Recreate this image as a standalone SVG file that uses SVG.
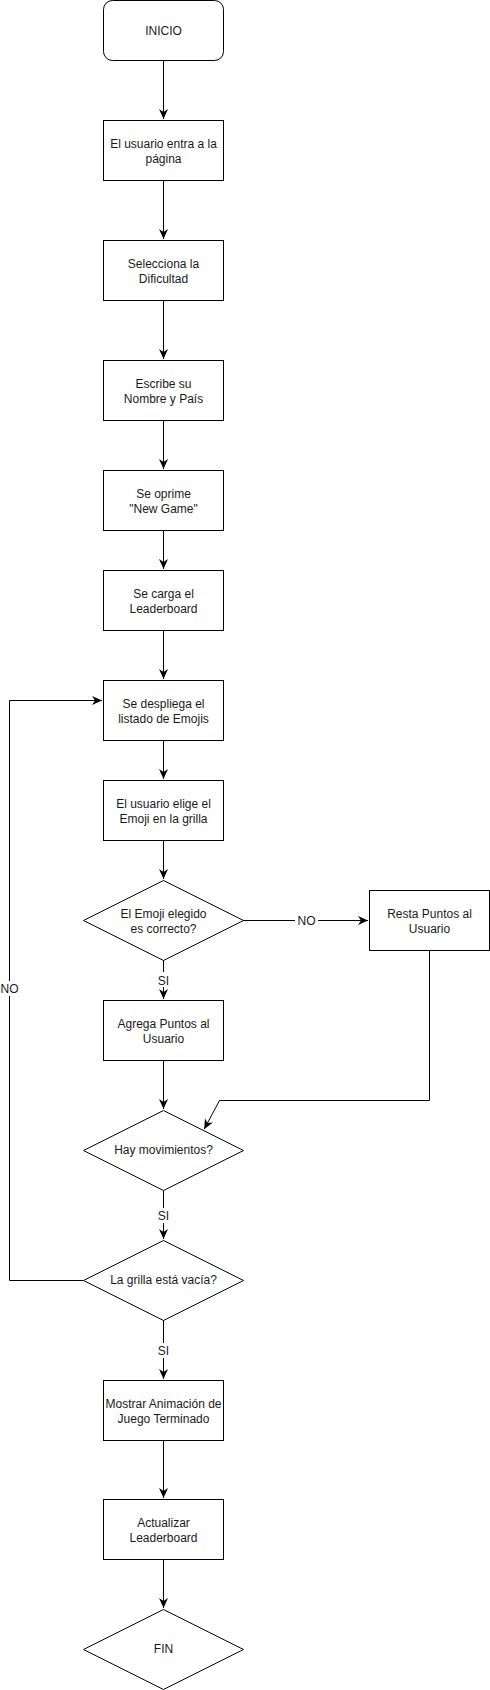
<svg xmlns="http://www.w3.org/2000/svg" width="490" height="1690" viewBox="0 0 490 1690">
<style>
.n{fill:#fff;stroke:#000;stroke-width:1}
.t{font-family:"Liberation Sans",Arial,sans-serif;font-size:12px;fill:#1a1a1a;text-anchor:middle}
.e{fill:none;stroke:#000;stroke-width:1}
.lb{fill:#fff}
</style>
<defs>
<marker id="a" markerUnits="userSpaceOnUse" markerWidth="12" markerHeight="10" refX="10" refY="4.5" orient="auto">
<path d="M0,0 L10,4.5 L0,9 L3,4.5 Z" fill="#000"/>
</marker>
</defs>
<rect width="490" height="1690" fill="#fff"/>
<g id="connectors">
<path class="e" d="M163.5,60.5 V119" marker-end="url(#a)"/>
<path class="e" d="M163.5,180.5 V239" marker-end="url(#a)"/>
<path class="e" d="M163.5,300.5 V359" marker-end="url(#a)"/>
<path class="e" d="M163.5,420.5 V469" marker-end="url(#a)"/>
<path class="e" d="M163.5,530.5 V569" marker-end="url(#a)"/>
<path class="e" d="M163.5,630.5 V679" marker-end="url(#a)"/>
<path class="e" d="M163.5,740.5 V779" marker-end="url(#a)"/>
<path class="e" d="M163.5,840.5 V879" marker-end="url(#a)"/>
<path class="e" d="M243.5,920.5 H368" marker-end="url(#a)"/>
<path class="e" d="M163.5,960.5 V999" marker-end="url(#a)"/>
<path class="e" d="M163.5,1060.5 V1109" marker-end="url(#a)"/>
<path class="e" d="M429.5,950.5 V1100.5 H219.5 L204.2,1129.2" marker-end="url(#a)"/>
<path class="e" d="M163.5,1190.5 V1239" marker-end="url(#a)"/>
<path class="e" d="M83.5,1280.5 H9.5 V700.5 H102" marker-end="url(#a)"/>
<path class="e" d="M163.5,1320.5 V1379" marker-end="url(#a)"/>
<path class="e" d="M163.5,1440.5 V1498" marker-end="url(#a)"/>
<path class="e" d="M163.5,1559.5 V1608" marker-end="url(#a)"/>
<rect class="lb" x="295" y="913" width="23" height="15"/>
<text class="t" x="306.5" y="925">NO</text>
<rect class="lb" x="153" y="972" width="21" height="15"/>
<text class="t" x="163.5" y="984.5">SI</text>
<rect class="lb" x="0" y="981" width="21" height="15"/>
<text class="t" x="9.5" y="993">NO</text>
<rect class="lb" x="153" y="1208" width="21" height="15"/>
<text class="t" x="163.5" y="1220">SI</text>
<rect class="lb" x="153" y="1343" width="21" height="15"/>
<text class="t" x="163.5" y="1355">SI</text>
</g>
<g id="inicio"><rect class="n" x="103.5" y="0.5" width="120" height="60" rx="9"/><text class="t" x="163.5" y="34.5">INICIO</text></g>
<g id="entra"><rect class="n" x="103.5" y="120.5" width="120" height="60"/><text class="t" x="163.5" y="147.5">El usuario entra a la</text><text class="t" x="163.5" y="162.5">página</text></g>
<g id="dificultad"><rect class="n" x="103.5" y="240.5" width="120" height="60"/><text class="t" x="163.5" y="267.5">Selecciona la</text><text class="t" x="163.5" y="282.5">Dificultad</text></g>
<g id="nombre"><rect class="n" x="103.5" y="360.5" width="120" height="60"/><text class="t" x="163.5" y="387.5">Escribe su</text><text class="t" x="163.5" y="402.5">Nombre y País</text></g>
<g id="newgame"><rect class="n" x="103.5" y="470.5" width="120" height="60"/><text class="t" x="163.5" y="497.5">Se oprime</text><text class="t" x="163.5" y="512.5">"New Game"</text></g>
<g id="leaderboard"><rect class="n" x="103.5" y="570.5" width="120" height="60"/><text class="t" x="163.5" y="597.5">Se carga el</text><text class="t" x="163.5" y="612.5">Leaderboard</text></g>
<g id="despliega"><rect class="n" x="103.5" y="680.5" width="120" height="60"/><text class="t" x="163.5" y="707.5">Se despliega el</text><text class="t" x="163.5" y="722.5">listado de Emojis</text></g>
<g id="elige"><rect class="n" x="103.5" y="780.5" width="120" height="60"/><text class="t" x="163.5" y="807.5">El usuario elige el</text><text class="t" x="163.5" y="822.5">Emoji en la grilla</text></g>
<g id="correcto"><path class="n" d="M163.5,880.5 L243.5,920.5 L163.5,960.5 L83.5,920.5 Z"/><text class="t" x="163.5" y="917.5">El Emoji elegido</text><text class="t" x="163.5" y="932.5">es correcto?</text></g>
<g id="resta"><rect class="n" x="369.5" y="890.5" width="120" height="60"/><text class="t" x="429.5" y="917.5">Resta Puntos al</text><text class="t" x="429.5" y="932.5">Usuario</text></g>
<g id="agrega"><rect class="n" x="103.5" y="1000.5" width="120" height="60"/><text class="t" x="163.5" y="1027.5">Agrega Puntos al</text><text class="t" x="163.5" y="1042.5">Usuario</text></g>
<g id="movimientos"><path class="n" d="M163.5,1110.5 L243.5,1150.5 L163.5,1190.5 L83.5,1150.5 Z"/><text class="t" x="163.5" y="1154">Hay movimientos?</text></g>
<g id="vacia"><path class="n" d="M163.5,1240.5 L243.5,1280.5 L163.5,1320.5 L83.5,1280.5 Z"/><text class="t" x="163.5" y="1284">La grilla está vacía?</text></g>
<g id="animacion"><rect class="n" x="103.5" y="1380.5" width="120" height="60"/><text class="t" x="163.5" y="1407.5">Mostrar Animación de</text><text class="t" x="163.5" y="1422.5">Juego Terminado</text></g>
<g id="actualizar"><rect class="n" x="103.5" y="1499.5" width="120" height="60"/><text class="t" x="163.5" y="1526.5">Actualizar</text><text class="t" x="163.5" y="1541.5">Leaderboard</text></g>
<g id="fin"><path class="n" d="M163.5,1609.5 L243.5,1649.5 L163.5,1689.5 L83.5,1649.5 Z"/><text class="t" x="163.5" y="1653">FIN</text></g>
</svg>
